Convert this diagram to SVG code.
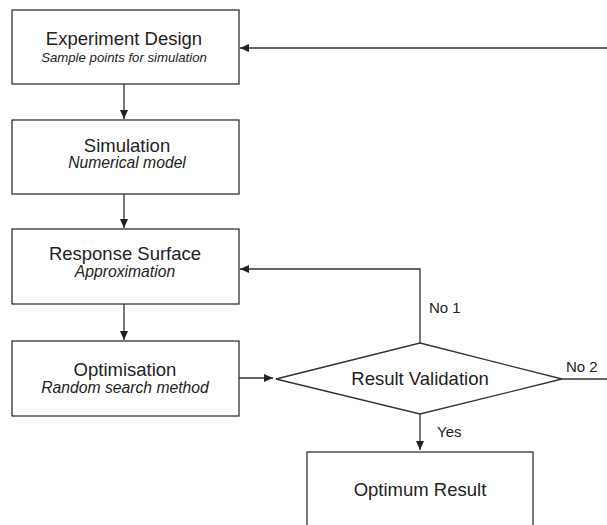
<svg xmlns="http://www.w3.org/2000/svg" width="607" height="525" viewBox="0 0 607 525">
<style>
.box{fill:#fff;stroke:#333;stroke-width:1.3}
.t{font-family:"Liberation Sans",Arial,sans-serif;font-size:18.5px;fill:#222;text-anchor:middle}
.s{font-family:"Liberation Sans",Arial,sans-serif;font-size:15.7px;font-style:italic;fill:#222;text-anchor:middle}
.l{font-family:"Liberation Sans",Arial,sans-serif;font-size:15px;fill:#222}
.c{fill:none;stroke:#333;stroke-width:1.3}
</style>
<defs>
<marker id="ah" markerWidth="10" markerHeight="8" refX="9" refY="4" orient="auto" markerUnits="userSpaceOnUse">
<path d="M0,0 L9,4 L0,8 Z" fill="#222"/>
</marker>
</defs>
<rect width="607" height="525" fill="#fff"/>
<g id="connectors">
<path class="c" d="M607,48 H240" marker-end="url(#ah)"/>
<path class="c" d="M124,84 V119" marker-end="url(#ah)"/>
<path class="c" d="M124,194 V228" marker-end="url(#ah)"/>
<path class="c" d="M124,304 V340" marker-end="url(#ah)"/>
<path class="c" d="M239,378 H273" marker-end="url(#ah)"/>
<path class="c" d="M420,343 V269 H240" marker-end="url(#ah)"/>
<path class="c" d="M562,379 H607"/>
<path class="c" d="M420,414 V450" marker-end="url(#ah)"/>
<text class="l" x="429" y="313">No 1</text>
<text class="l" x="566" y="372">No 2</text>
<text class="l" x="437" y="437">Yes</text>
</g>
<g id="experiment-design">
<rect class="box" x="12" y="10" width="227" height="74"/>
<text class="t" x="124" y="45">Experiment Design</text>
<text class="s" x="124" y="62" style="font-size:13.2px">Sample points for simulation</text>
</g>
<g id="simulation">
<rect class="box" x="12" y="120" width="227" height="74"/>
<text class="t" x="127" y="152">Simulation</text>
<text class="s" x="127" y="168">Numerical model</text>
</g>
<g id="response-surface">
<rect class="box" x="12" y="229" width="227" height="75"/>
<text class="t" x="125" y="260">Response Surface</text>
<text class="s" x="125" y="277">Approximation</text>
</g>
<g id="optimisation">
<rect class="box" x="12" y="341" width="227" height="75"/>
<text class="t" x="125" y="376">Optimisation</text>
<text class="s" x="125" y="393">Random search method</text>
</g>
<g id="result-validation">
<polygon class="box" points="420,343 562,379 420,414 276,379"/>
<text class="t" x="420" y="385">Result Validation</text>
</g>
<g id="optimum-result">
<rect class="box" x="307" y="452" width="226" height="90"/>
<text class="t" x="420" y="496">Optimum Result</text>
</g>
</svg>
